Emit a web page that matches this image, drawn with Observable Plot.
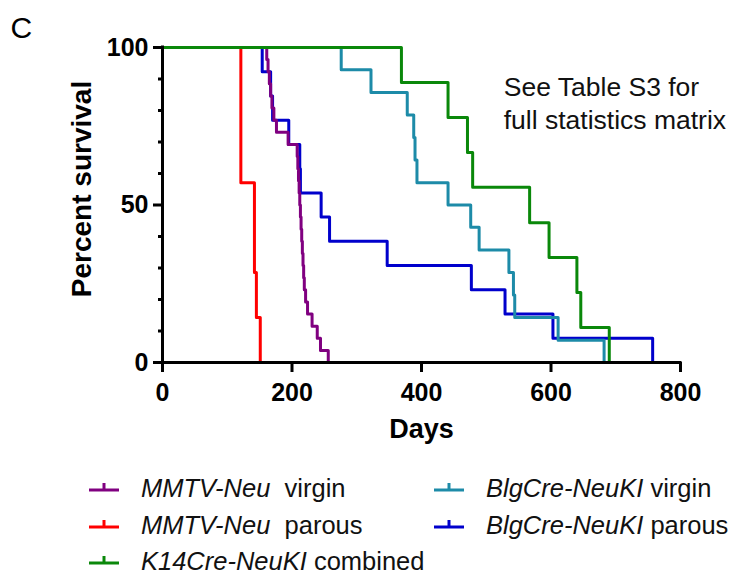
<!DOCTYPE html>
<html><head><meta charset="utf-8">
<script src="https://cdn.jsdelivr.net/npm/d3@7"></script>
<script src="https://cdn.jsdelivr.net/npm/@observablehq/plot@0.6"></script>
<style>
body{margin:0;background:#fff;}
#wrap{position:relative;width:731px;height:577px;overflow:hidden;}
svg{display:block;}
</style></head><body><div id="wrap"></div>
<script>
// ---- data ----
const groupNames = ["MMTV-Neu virgin","MMTV-Neu parous","K14Cre-NeuKI combined","BlgCre-NeuKI virgin","BlgCre-NeuKI parous"];
const groupItalic = ["MMTV-Neu","MMTV-Neu","K14Cre-NeuKI","BlgCre-NeuKI","BlgCre-NeuKI"];
const groupRest = ["\u00a0 virgin","\u00a0 parous"," combined"," virgin"," parous"];
const groupColors = ["#800080","#ff0000","#0a880a","#1d8ba8","#0000cc"];

const purpleDays = [0,161,163,165,167,169,172,176,194,208,209,210,211,212,213,214,215,216,217,218,219,221,224,231,239,244,256];
const purpleSurv = [100,96.2,92.3,88.5,84.6,80.8,76.9,73.1,69.2,65.4,61.5,57.7,53.8,50,46.2,42.3,38.5,34.6,30.8,26.9,23.1,19.2,15.4,11.5,7.7,3.8,0];
const redDays = [0,121,142,145,151];
const redSurv = [100,57.1,28.6,14.3,0];
const greenDays = [0,369,441,471,479,567,597,640,646,690];
const greenSurv = [100,88.9,77.8,66.7,55.6,44.4,33.3,22.2,11.1,0];
const tealDays = [0,276,322,378,388,390,393,441,476,489,535,542,544,611,682];
const tealSurv = [100,92.9,85.7,78.6,71.4,64.3,57.1,50,42.9,35.7,28.6,21.4,14.3,7.1,0];
const blueDays = [0,154,167,170,195,212,213,245,258,347,477,529,603,757];
const blueSurv = [100,92.3,84.6,76.9,69.2,61.5,53.8,46.2,38.5,30.8,23.1,15.4,7.7,0];

const xTicks = [0,200,400,600,800];
const yTicks = [0,50,100];
const yMinorTicks = [10,20,30,40,60,70,80,90];
const noteText = "See Table S3 for\nfull statistics matrix";
const notePos = {x: 527, y: 92.2};

// ---- build ----
const seriesDays = [purpleDays, redDays, greenDays, tealDays, blueDays];
const seriesSurv = [purpleSurv, redSurv, greenSurv, tealSurv, blueSurv];
const rowsOf = i => seriesDays[i].map((d, j) => ({group: groupNames[i], day: d, surv: seriesSurv[i][j]}));
const drawOrder = [4, 3, 1, 0, 2];

const font = "'Liberation Sans', Arial, Helvetica, sans-serif";

const chart = Plot.plot({
  width: 731, height: 452,
  marginLeft: 162, marginRight: 51, marginTop: 47, marginBottom: 90,
  x: {domain: [0, 800]},
  y: {domain: [0, 100]},
  color: {domain: groupNames, range: groupColors},
  style: {fontFamily: font, fontSize: "25px", fontWeight: "bold", color: "#000", background: "#fff"},
  marks: [
    ...drawOrder.map(i => Plot.line(rowsOf(i), {x: "day", y: "surv", stroke: "group", curve: "step-after", strokeWidth: 3})),
    Plot.ruleX([0], {strokeWidth: 3, strokeLinecap: "square"}),
    Plot.ruleY([0], {strokeWidth: 3, strokeLinecap: "square"}),
    Plot.axisY({ticks: yTicks, tickSize: 9, tickPadding: 5, strokeWidth: 3, fontSize: 25, fontWeight: "bold", label: null}),
    Plot.axisY({ticks: yMinorTicks, tickSize: 4, strokeWidth: 3, tickFormat: () => "", label: null}),
    Plot.axisX({ticks: xTicks, tickSize: 10, tickPadding: 11, strokeWidth: 3, fontSize: 25, fontWeight: "bold", label: null}),
    Plot.text(["Days"], {frameAnchor: "bottom", dy: 75, lineAnchor: "bottom", textAnchor: "middle", fontSize: 27, fontWeight: "bold"}),
    Plot.text(["Percent survival"], {frameAnchor: "left", rotate: -90, dx: -72, dy: -16, lineAnchor: "bottom", textAnchor: "middle", fontSize: 28, fontWeight: "bold"}),
    Plot.text(["C"], {frameAnchor: "top-left", dx: -152, dy: -10, textAnchor: "start", lineAnchor: "bottom", fontSize: 30, fontWeight: "normal"}),
    Plot.text([notePos], {x: "x", y: "y", text: () => noteText, textAnchor: "start", lineAnchor: "top", lineHeight: 1.26, fontSize: 26.5, fontWeight: "normal", fill: "#111"})
  ]
});
document.getElementById("wrap").appendChild(chart);

// ---- legend (below the plot) ----
const legPos = [[0,0],[0,1],[0,2],[1,0],[1,1]];
const colGlyphX = [89, 434], colTextX = [141, 486];
const rowBase = [45, 82, 118];
const leg = d3.select("#wrap").append("svg").attr("width", 731).attr("height", 125)
  .style("font-family", font).style("font-size", "25.5px");
groupNames.forEach((name, i) => {
  const [c, r] = legPos[i];
  const g = leg.append("g");
  const ly = rowBase[r] - 7;
  g.append("line").attr("x1", colGlyphX[c]).attr("x2", colGlyphX[c] + 30).attr("y1", ly).attr("y2", ly)
    .attr("stroke", groupColors[i]).attr("stroke-width", 3);
  g.append("line").attr("x1", colGlyphX[c] + 15).attr("x2", colGlyphX[c] + 15).attr("y1", ly).attr("y2", ly - 7)
    .attr("stroke", groupColors[i]).attr("stroke-width", 3);
  const t = g.append("text").attr("x", colTextX[c]).attr("y", rowBase[r]).attr("fill", "#111");
  t.append("tspan").attr("font-style", "italic").text(groupItalic[i]);
  t.append("tspan").text(groupRest[i]);
});
</script>
</body></html>
